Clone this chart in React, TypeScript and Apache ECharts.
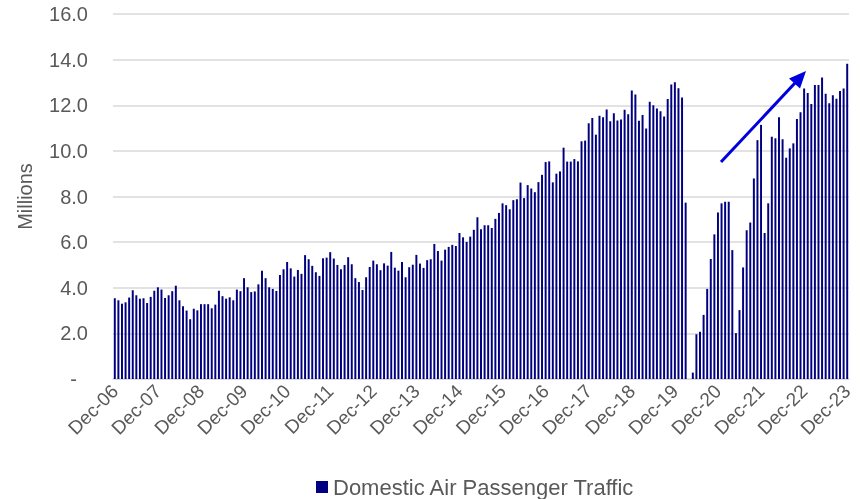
import React, { useEffect, useRef } from "react";
import * as echarts from "echarts";

const MONTHS = ["Jan", "Feb", "Mar", "Apr", "May", "Jun", "Jul", "Aug", "Sep", "Oct", "Nov", "Dec"];
const START_LABEL = "Dec-06";
const YEARS = ["07", "08", "09", "10", "11", "12", "13", "14", "15", "16", "17", "18", "19", "20", "21", "22", "23"];

const dec2006 = [3.54];
const y2007 = [3.45, 3.30, 3.36, 3.57, 3.89, 3.67, 3.52, 3.54, 3.33, 3.60, 3.87, 4.02];
const y2008 = [3.92, 3.55, 3.67, 3.85, 4.09, 3.45, 3.19, 3.00, 2.62, 3.08, 3.01, 3.28];
const y2009 = [3.28, 3.28, 3.10, 3.26, 3.87, 3.63, 3.52, 3.58, 3.45, 3.92, 3.85, 4.42];
const y2010 = [4.02, 3.81, 3.84, 4.15, 4.74, 4.42, 4.02, 3.95, 3.86, 4.56, 4.81, 5.13];
const y2011 = [4.85, 4.49, 4.78, 4.61, 5.43, 5.25, 4.96, 4.68, 4.52, 5.29, 5.32, 5.56];
const y2012 = [5.28, 5.00, 4.81, 5.00, 5.34, 5.03, 4.42, 4.25, 3.90, 4.46, 4.91, 5.19];
const y2013 = [5.03, 4.77, 5.07, 4.97, 5.57, 4.88, 4.75, 5.13, 4.46, 4.90, 5.01, 5.44];
const y2014 = [5.06, 4.87, 5.21, 5.25, 5.92, 5.61, 5.19, 5.67, 5.79, 5.88, 5.83, 6.40];
const y2015 = [6.21, 6.01, 6.24, 6.54, 7.09, 6.56, 6.74, 6.74, 6.62, 7.02, 7.28, 7.70];
const y2016 = [7.62, 7.44, 7.84, 7.88, 8.61, 7.93, 8.50, 8.35, 8.19, 8.63, 8.95, 9.51];
const y2017 = [9.54, 8.62, 9.00, 9.10, 10.14, 9.53, 9.53, 9.64, 9.54, 10.42, 10.45, 11.21];
const y2018 = [11.44, 10.71, 11.54, 11.47, 11.81, 11.30, 11.65, 11.33, 11.37, 11.80, 11.61, 12.65];
const y2019 = [12.47, 11.32, 11.57, 10.98, 12.15, 12.00, 11.86, 11.74, 11.51, 12.27, 12.91, 13.01];
const y2020 = [12.75, 12.34, 7.73, 0, 0.28, 1.96, 2.07, 2.81, 3.95, 5.26, 6.34, 7.30];
const y2021 = [7.70, 7.77, 7.77, 5.65, 2.01, 3.02, 4.89, 6.52, 6.86, 8.79, 10.47, 11.14];
const y2022 = [6.40, 7.70, 10.62, 10.55, 11.47, 10.51, 9.70, 10.11, 10.33, 11.40, 11.69, 12.73];
const y2023 = [12.54, 12.06, 12.89, 12.89, 13.22, 12.50, 12.09, 12.44, 12.28, 12.62, 12.73, 13.82];

const SERIES_NAME = "Domestic Air Passenger Traffic";
const Y_NAME = "Millions";

const values = [
  ...dec2006, ...y2007, ...y2008, ...y2009, ...y2010, ...y2011, ...y2012, ...y2013, ...y2014,
  ...y2015, ...y2016, ...y2017, ...y2018, ...y2019, ...y2020, ...y2021, ...y2022, ...y2023,
];
const categories = [START_LABEL];
YEARS.forEach((yy) => MONTHS.forEach((m) => categories.push(`${m}-${yy}`)));

const FONT = "'Liberation Sans', Arial, sans-serif";
const TEXT = "#595959";
const GRID = "#d9d9d9";
const BAR = "#000080";
const ARROW = "#0000dc";

export default function App() {
  const ref = useRef<HTMLDivElement>(null);
  useEffect(() => {
    if (!ref.current) return;
    const chart = echarts.init(ref.current, null, { renderer: "svg" });
    chart.setOption({
      animation: false,
      textStyle: { fontFamily: FONT },
      grid: { left: 113, right: 14, top: 14, bottom: 120, containLabel: false },
      legend: {
        data: [SERIES_NAME],
        left: 316,
        top: 476,
        padding: 0,
        icon: "rect",
        itemWidth: 12,
        itemHeight: 12,
        itemGap: 4,
        textStyle: { color: TEXT, fontSize: 22, fontFamily: FONT },
      },
      xAxis: {
        type: "category",
        data: categories,
        boundaryGap: true,
        axisLine: { show: true, lineStyle: { color: GRID, width: 1.5 } },
        axisTick: { show: false },
        axisLabel: {
          interval: 11,
          rotate: 45,
          margin: 9,
          color: TEXT,
          fontSize: 19,
          fontFamily: FONT,
        },
      },
      yAxis: {
        type: "value",
        min: 0,
        max: 16,
        interval: 2,
        name: Y_NAME,
        nameLocation: "middle",
        nameRotate: 90,
        nameGap: 78,
        nameTextStyle: { color: TEXT, fontSize: 20, fontFamily: FONT },
        axisLine: { show: false },
        axisTick: { show: false },
        splitLine: { lineStyle: { color: GRID, width: 1.5 } },
        axisLabel: {
          margin: 25,
          color: TEXT,
          fontSize: 20,
          fontFamily: FONT,
          formatter: (v: number) => (v === 0 ? "{d|-}" : v.toFixed(1)),
          rich: { d: { padding: [0, 11, 0, 0], color: TEXT, fontSize: 20, fontFamily: FONT } },
        },
      },
      series: [
        {
          name: SERIES_NAME,
          type: "bar",
          data: values,
          barCategoryGap: "45%",
          itemStyle: { color: BAR },
        },
      ],
      graphic: [
        {
          type: "line",
          shape: { x1: 721, y1: 162, x2: 795, y2: 83 },
          style: { stroke: ARROW, lineWidth: 3 },
          z: 100,
        },
        {
          type: "polygon",
          shape: { points: [[806, 71], [789, 78.5], [800, 88.5]] },
          style: { fill: ARROW },
          z: 100,
        },
      ],
    });
    return () => chart.dispose();
  }, []);
  return (
    <div
      ref={ref}
      style={{ position: "fixed", left: 0, top: 0, width: 863, height: 499 }}
    />
  );
}
